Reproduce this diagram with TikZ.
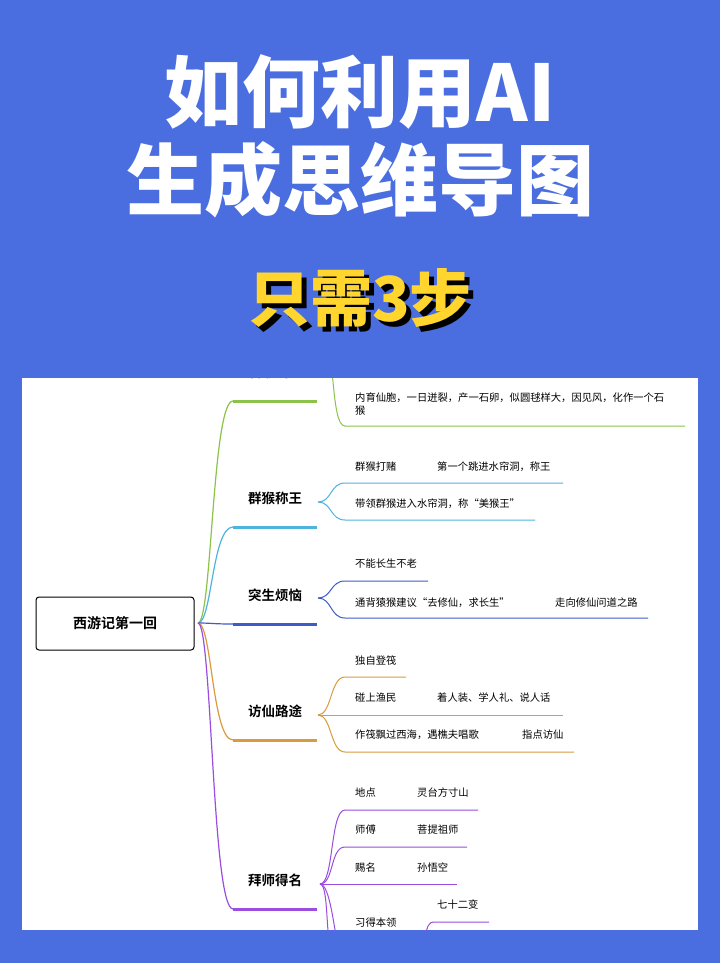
\documentclass[tikz,border=0pt]{standalone}
\usepackage{fontspec}
\setmainfont{Noto Sans CJK SC}
\newfontfamily\cjkbold{Noto Sans CJK SC Black}
\newfontfamily\cjkmid{Noto Sans CJK SC Bold}
\definecolor{bgblue}{HTML}{4A6EE0}
\definecolor{ttyellow}{HTML}{FFD52E}
\definecolor{mgreen}{HTML}{8BC34A}
\definecolor{mcyan}{HTML}{4FB3E0}
\definecolor{mblue}{HTML}{3F5BC8}
\definecolor{morange}{HTML}{D99A40}
\definecolor{mpurple}{HTML}{9B4DE0}
\tikzset{
  leaf/.style={anchor=west,inner sep=0pt,font=\fontsize{10.3}{13}\selectfont},
  topic/.style={anchor=west,inner sep=0pt,font=\cjkmid\fontsize{13.5}{14}\selectfont},
  bar/.style={line width=3pt},
  twig/.style={line width=1pt}
}
\begin{document}
\begin{tikzpicture}[x=1pt,y=-1pt]
	\fill[bgblue] (0,0) rectangle (720,963);
	\useasboundingbox (0,0) rectangle (720,963);
	% title
	\node[white,font=\cjkbold\fontsize{78}{80}\selectfont] (t1) at (360,92) {如何利用AI};
	\node[white,font=\cjkbold\fontsize{78}{80}\selectfont] (t2) at (360,180) {生成思维导图};
	\node[black,font=\cjkbold\fontsize{62}{64}\selectfont] (t3s) at (365,303) {只需3步};
	\node[ttyellow,font=\cjkbold\fontsize{62}{64}\selectfont] (t3) at (360,298) {只需3步};

	% panel
	\fill[white] (22,378) rectangle (698,930);
	\begin{scope}
	\clip (22,378) rectangle (698,930);
	\node[draw,rounded corners=3pt,line width=1pt,minimum width=158pt,minimum height=53pt,font=\cjkmid\fontsize{14}{16}\selectfont] (root) at (115,623.5) {西游记第一回};
	\coordinate (o) at (198,623);

	% main branches: colour / bar y / label
	\foreach \c/\y/\t in {mgreen/401/石猴出世, mcyan/527/群猴称王, mblue/624/突生烦恼, morange/740/访仙路途, mpurple/909/拜师得名}{
		\draw[\c,line width=1.2pt] (o) .. controls (212,623) and (212,\y) .. (233,\y);
		\draw[\c,bar] (233,\y) -- (317,\y);
		\node[topic] at (248,\y-29) {\t};
	}

	% 石猴出世
	\draw[mgreen,twig] (322,340) .. controls (336,340) and (330,426) .. (345,426) -- (685,426);
	\node[leaf,align=left] (g1) at (355,404) {内育仙胞，一日迸裂，产一石卵，似圆毬样大，因见风，化作一个石\\猴};

	% 群猴称王
	\coordinate (f2) at (318,502);
	\draw[mcyan,twig] (f2) .. controls (332,502) and (330,483) .. (345,483) -- (563,483);
	\draw[mcyan,twig] (f2) .. controls (332,502) and (330,520) .. (345,520) -- (535,520);
	\node[leaf] (c1) at (355,467) {群猴打赌};
	\node[leaf] (c2) at (437,467) {第一个跳进水帘洞，称王};
	\node[leaf] (c3) at (355,504) {带领群猴进入水帘洞，称“美猴王”};

	% 突生烦恼
	\coordinate (f3) at (318,598);
	\draw[mblue,twig] (f3) .. controls (332,598) and (330,581) .. (345,581) -- (428,581);
	\draw[mblue,twig] (f3) .. controls (332,598) and (330,618) .. (345,618) -- (648,618);
	\node[leaf] (b1) at (355,564) {不能长生不老};
	\node[leaf] (b2) at (355,603) {通背猿猴建议“去修仙，求长生”};
	\node[leaf] (b3) at (555,603) {走向修仙问道之路};

	% 访仙路途
	\coordinate (f4) at (318,715);
	\draw[morange,twig] (f4) .. controls (332,715) and (330,677) .. (345,677) -- (406,677);
	\draw[morange,twig] (f4) -- (563,715);
	\draw[morange,twig] (f4) .. controls (332,715) and (330,752) .. (345,752) -- (574,752);
	\node[leaf] (r1) at (355,661) {独自登筏};
	\node[leaf] (r2) at (355,698) {碰上渔民};
	\node[leaf] (r3) at (437,698) {着人装、学人礼、说人话};
	\node[leaf] (r4) at (355,735) {作筏飘过西海，遇樵夫唱歌};
	\node[leaf] (r5) at (522,735) {指点访仙};

	% 拜师得名
	\coordinate (f5) at (320,884);
	\draw[mpurple,twig] (f5) .. controls (334,884) and (330,810) .. (345,810) -- (478,810);
	\draw[mpurple,twig] (f5) .. controls (334,884) and (330,847) .. (345,847) -- (467,847);
	\draw[mpurple,twig] (f5) -- (457,884);
	\draw[mpurple,twig] (f5) .. controls (330,884) and (334,930) .. (338,945);
	\draw[mpurple,twig] (f5) .. controls (328,884) and (326,930) .. (330,945);
	\draw[mpurple,twig] (424,940) .. controls (428,925) and (428,922) .. (435,922) -- (489,922);
	\node[leaf] (p1) at (355,793) {地点};
	\node[leaf] (p2) at (417,793) {灵台方寸山};
	\node[leaf] (p3) at (355,830) {师傅};
	\node[leaf] (p4) at (417,830) {菩提祖师};
	\node[leaf] (p5) at (355,868) {赐名};
	\node[leaf] (p6) at (417,868) {孙悟空};
	\node[leaf] (p7) at (355,923) {习得本领};
	\node[leaf] (p8) at (437,905) {七十二变};
	\end{scope}
\end{tikzpicture}
\end{document}
